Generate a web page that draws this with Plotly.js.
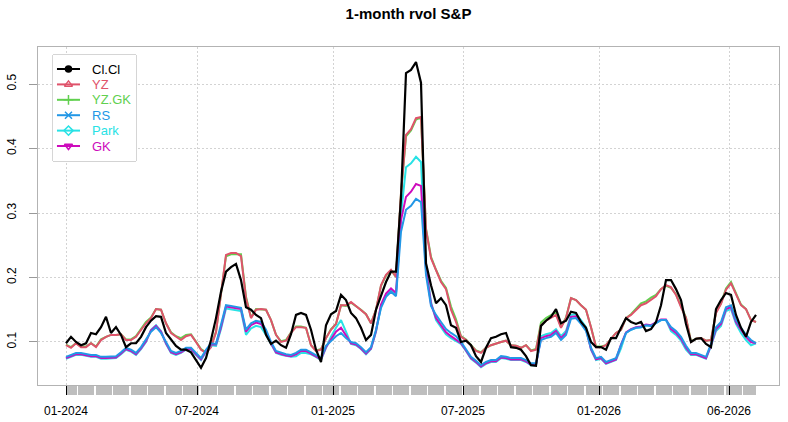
<!DOCTYPE html>
<html>
<head>
<meta charset="utf-8">
<script src="https://cdn.plot.ly/plotly-3.0.1.min.js"></script>
<style>
  html, body { margin: 0; padding: 0; background: #fff; }
  #chart { width: 788px; height: 422px; }
</style>
</head>
<body>
<div id="chart"></div>
<script>
// roughly weekly samples, 01-2024 .. 08-2026
var clcl = [
  0.098, 0.108, 0.100, 0.095, 0.098, 0.114, 0.112, 0.123, 0.139, 0.114,
  0.123, 0.111, 0.092, 0.098, 0.098, 0.108, 0.123, 0.133, 0.140, 0.139,
  0.114, 0.103, 0.094, 0.088, 0.088, 0.084, 0.072, 0.060, 0.075, 0.103,
  0.137, 0.178, 0.209, 0.216, 0.221, 0.196, 0.154, 0.150, 0.142, 0.137,
  0.111, 0.097, 0.102, 0.095, 0.091, 0.112, 0.142, 0.145, 0.142, 0.119,
  0.088, 0.069, 0.126, 0.143, 0.148, 0.173, 0.165, 0.145, 0.137, 0.122,
  0.103, 0.111, 0.150, 0.173, 0.193, 0.209, 0.209, 0.323, 0.517, 0.522,
  0.534, 0.502, 0.222, 0.188, 0.160, 0.168, 0.157, 0.126, 0.122, 0.100,
  0.102, 0.095, 0.078, 0.069, 0.091, 0.106, 0.108, 0.112, 0.114, 0.092,
  0.091, 0.088, 0.078, 0.064, 0.063, 0.125, 0.133, 0.139, 0.151, 0.129,
  0.133, 0.147, 0.145, 0.131, 0.122, 0.100, 0.092, 0.092, 0.088, 0.106,
  0.106, 0.122, 0.137, 0.131, 0.128, 0.131, 0.117, 0.120, 0.131, 0.157,
  0.196, 0.196, 0.182, 0.165, 0.128, 0.100, 0.105, 0.106, 0.097, 0.092,
  0.151, 0.165, 0.176, 0.173, 0.142, 0.122, 0.108, 0.131, 0.142
];
var yz = [
  0.095, 0.091, 0.098, 0.092, 0.092, 0.098, 0.092, 0.103, 0.108, 0.111,
  0.111, 0.112, 0.103, 0.103, 0.108, 0.119, 0.129, 0.137, 0.151, 0.150,
  0.129, 0.114, 0.108, 0.103, 0.109, 0.111, 0.100, 0.088, 0.083, 0.092,
  0.115, 0.176, 0.235, 0.238, 0.238, 0.233, 0.168, 0.137, 0.150, 0.151,
  0.150, 0.134, 0.111, 0.100, 0.102, 0.114, 0.123, 0.123, 0.122, 0.095,
  0.086, 0.088, 0.106, 0.119, 0.128, 0.157, 0.157, 0.162, 0.156, 0.150,
  0.143, 0.129, 0.150, 0.188, 0.204, 0.212, 0.201, 0.331, 0.421, 0.430,
  0.447, 0.449, 0.274, 0.230, 0.210, 0.193, 0.182, 0.150, 0.131, 0.108,
  0.103, 0.095, 0.086, 0.083, 0.091, 0.095, 0.098, 0.100, 0.102, 0.095,
  0.094, 0.091, 0.095, 0.086, 0.088, 0.126, 0.133, 0.137, 0.142, 0.122,
  0.137, 0.168, 0.165, 0.157, 0.150, 0.123, 0.092, 0.092, 0.095, 0.105,
  0.114, 0.119, 0.137, 0.142, 0.150, 0.157, 0.160, 0.165, 0.171, 0.182,
  0.188, 0.185, 0.173, 0.154, 0.137, 0.100, 0.105, 0.106, 0.102, 0.103,
  0.145, 0.159, 0.181, 0.191, 0.173, 0.157, 0.151, 0.134, 0.131
];
var yzgk = [
  0.096, 0.092, 0.098, 0.093, 0.093, 0.098, 0.093, 0.104, 0.108, 0.111,
  0.111, 0.112, 0.104, 0.104, 0.109, 0.121, 0.131, 0.138, 0.151, 0.150,
  0.129, 0.115, 0.109, 0.106, 0.111, 0.112, 0.101, 0.089, 0.084, 0.093,
  0.116, 0.175, 0.233, 0.236, 0.236, 0.236, 0.170, 0.138, 0.151, 0.151,
  0.150, 0.134, 0.111, 0.101, 0.103, 0.115, 0.124, 0.124, 0.122, 0.095,
  0.087, 0.089, 0.106, 0.120, 0.128, 0.157, 0.156, 0.161, 0.156, 0.150,
  0.143, 0.129, 0.150, 0.187, 0.203, 0.211, 0.201, 0.330, 0.419, 0.428,
  0.445, 0.448, 0.276, 0.232, 0.212, 0.195, 0.184, 0.155, 0.135, 0.109,
  0.104, 0.096, 0.087, 0.084, 0.091, 0.095, 0.098, 0.100, 0.102, 0.095,
  0.094, 0.091, 0.095, 0.087, 0.089, 0.130, 0.137, 0.141, 0.146, 0.123,
  0.138, 0.168, 0.165, 0.157, 0.150, 0.123, 0.093, 0.093, 0.095, 0.105,
  0.114, 0.119, 0.137, 0.143, 0.152, 0.160, 0.163, 0.169, 0.173, 0.182,
  0.187, 0.184, 0.174, 0.155, 0.138, 0.101, 0.105, 0.106, 0.102, 0.103,
  0.146, 0.160, 0.183, 0.193, 0.175, 0.158, 0.151, 0.134, 0.131
];
var rs = [
  0.077, 0.080, 0.083, 0.083, 0.081, 0.080, 0.080, 0.077, 0.077, 0.078,
  0.078, 0.084, 0.091, 0.088, 0.083, 0.092, 0.103, 0.116, 0.123, 0.114,
  0.100, 0.086, 0.083, 0.086, 0.091, 0.091, 0.083, 0.075, 0.088, 0.098,
  0.097, 0.125, 0.157, 0.156, 0.154, 0.153, 0.119, 0.129, 0.133, 0.131,
  0.119, 0.100, 0.086, 0.083, 0.081, 0.080, 0.083, 0.088, 0.088, 0.084,
  0.080, 0.075, 0.094, 0.102, 0.109, 0.114, 0.106, 0.100, 0.098, 0.092,
  0.084, 0.092, 0.119, 0.153, 0.170, 0.178, 0.171, 0.271, 0.305, 0.311,
  0.322, 0.317, 0.204, 0.156, 0.142, 0.131, 0.120, 0.114, 0.109, 0.100,
  0.089, 0.077, 0.071, 0.064, 0.069, 0.072, 0.072, 0.078, 0.077, 0.075,
  0.075, 0.075, 0.072, 0.067, 0.067, 0.103, 0.106, 0.108, 0.114, 0.103,
  0.111, 0.136, 0.137, 0.128, 0.117, 0.091, 0.075, 0.077, 0.069, 0.072,
  0.075, 0.095, 0.114, 0.119, 0.122, 0.123, 0.126, 0.125, 0.129, 0.134,
  0.134, 0.123, 0.117, 0.108, 0.094, 0.083, 0.083, 0.080, 0.077, 0.097,
  0.123, 0.131, 0.154, 0.157, 0.134, 0.122, 0.111, 0.103, 0.098
];
var park = [
  0.074, 0.077, 0.080, 0.080, 0.078, 0.077, 0.077, 0.074, 0.074, 0.075,
  0.075, 0.081, 0.088, 0.085, 0.080, 0.089, 0.100, 0.119, 0.126, 0.117,
  0.097, 0.083, 0.080, 0.083, 0.088, 0.088, 0.080, 0.072, 0.085, 0.095,
  0.094, 0.120, 0.152, 0.151, 0.149, 0.148, 0.111, 0.121, 0.125, 0.123,
  0.111, 0.097, 0.083, 0.080, 0.078, 0.077, 0.078, 0.083, 0.083, 0.081,
  0.077, 0.072, 0.091, 0.108, 0.122, 0.134, 0.116, 0.097, 0.095, 0.089,
  0.081, 0.089, 0.116, 0.155, 0.172, 0.180, 0.173, 0.297, 0.371, 0.377,
  0.387, 0.379, 0.219, 0.162, 0.134, 0.123, 0.112, 0.106, 0.101, 0.097,
  0.086, 0.074, 0.068, 0.061, 0.066, 0.069, 0.069, 0.075, 0.074, 0.072,
  0.072, 0.072, 0.069, 0.064, 0.064, 0.109, 0.112, 0.114, 0.120, 0.109,
  0.117, 0.142, 0.143, 0.134, 0.123, 0.088, 0.072, 0.074, 0.066, 0.069,
  0.072, 0.090, 0.114, 0.119, 0.122, 0.123, 0.126, 0.125, 0.129, 0.134,
  0.134, 0.117, 0.111, 0.102, 0.088, 0.080, 0.080, 0.077, 0.074, 0.094,
  0.117, 0.125, 0.148, 0.151, 0.128, 0.114, 0.103, 0.095, 0.098
];
var gk = [
  0.075, 0.078, 0.081, 0.081, 0.079, 0.078, 0.078, 0.075, 0.075, 0.076,
  0.076, 0.082, 0.089, 0.086, 0.081, 0.090, 0.101, 0.118, 0.125, 0.116,
  0.098, 0.084, 0.081, 0.084, 0.089, 0.089, 0.081, 0.073, 0.086, 0.096,
  0.096, 0.123, 0.155, 0.154, 0.152, 0.151, 0.116, 0.126, 0.130, 0.128,
  0.116, 0.098, 0.084, 0.081, 0.079, 0.078, 0.081, 0.086, 0.086, 0.082,
  0.078, 0.073, 0.092, 0.105, 0.116, 0.122, 0.111, 0.098, 0.096, 0.090,
  0.082, 0.090, 0.117, 0.158, 0.175, 0.183, 0.176, 0.289, 0.325, 0.333,
  0.345, 0.342, 0.212, 0.159, 0.137, 0.126, 0.115, 0.109, 0.104, 0.098,
  0.087, 0.075, 0.069, 0.062, 0.067, 0.070, 0.070, 0.076, 0.075, 0.073,
  0.073, 0.073, 0.070, 0.065, 0.065, 0.106, 0.109, 0.111, 0.117, 0.106,
  0.114, 0.139, 0.140, 0.131, 0.120, 0.089, 0.073, 0.075, 0.067, 0.070,
  0.073, 0.096, 0.115, 0.120, 0.123, 0.124, 0.127, 0.126, 0.130, 0.135,
  0.135, 0.120, 0.114, 0.105, 0.091, 0.081, 0.081, 0.078, 0.075, 0.095,
  0.120, 0.128, 0.151, 0.154, 0.131, 0.119, 0.108, 0.100, 0.098
];

// x axis works on observation number, like xts does
var tickLabels = ['01-2024', '07-2024', '01-2025', '07-2025', '01-2026', '06-2026'];
var tickPos = [0, 26.2, 53.4, 79.4, 106.6, 132.6];
var yTicks = [0.1, 0.2, 0.3, 0.4, 0.5];

var obs = clcl.map(function (v, i) { return i; });
var FONT = 'Liberation Sans, Arial, sans-serif';

var series = [
  { name: 'Cl.Cl', y: clcl, color: '#000000', symbol: 'circle', width: 2.2 },
  { name: 'YZ', y: yz, color: '#DF536B', symbol: 'triangle-up-open', width: 2 },
  { name: 'YZ.GK', y: yzgk, color: '#61D04F', symbol: 'cross-thin-open', width: 2 },
  { name: 'RS', y: rs, color: '#2297E6', symbol: 'x-thin-open', width: 2 },
  { name: 'Park', y: park, color: '#28E2E5', symbol: 'diamond-open', width: 2 },
  { name: 'GK', y: gk, color: '#CD0BBC', symbol: 'triangle-down-open', width: 2 }
];

// which line ends up on top
var drawOrder = ['YZ.GK', 'YZ', 'Park', 'GK', 'RS', 'Cl.Cl'];

var data = [];
drawOrder.forEach(function (name) {
  var s = series.filter(function (d) { return d.name === name; })[0];
  data.push({
    x: obs,
    y: s.y,
    type: 'scatter',
    mode: 'lines',
    line: { color: s.color, width: s.width },
    hoverinfo: 'skip'
  });
});

// R style legend: its own little subplot, units are pixels of the box
var annotations = [];
series.forEach(function (s, k) {
  var row = 14 + 15.4 * k;
  data.push({
    x: [4, 27], y: [row, row],
    xaxis: 'x2', yaxis: 'y2',
    type: 'scatter', mode: 'lines',
    line: { color: s.color, width: 2 },
    hoverinfo: 'skip'
  });
  data.push({
    x: [15.5], y: [row],
    xaxis: 'x2', yaxis: 'y2',
    type: 'scatter', mode: 'markers',
    marker: {
      symbol: s.symbol,
      size: s.symbol === 'circle' ? 6 : 7,
      color: s.color,
      line: { color: s.color, width: 1.5 }
    },
    hoverinfo: 'skip'
  });
  annotations.push({
    xref: 'x2', yref: 'y2',
    x: 37, y: row,
    xanchor: 'left', yanchor: 'middle',
    text: s.name,
    showarrow: false,
    font: { family: FONT, size: 13, color: s.color }
  });
});

var layout = {
  width: 788,
  height: 422,
  margin: { l: 38, r: 9, t: 47, b: 37 },
  paper_bgcolor: '#ffffff',
  plot_bgcolor: '#ffffff',
  font: { family: FONT, size: 12, color: '#000' },
  showlegend: false,
  title: {
    text: '<b>1-month rvol S&P</b>',
    font: { family: FONT, size: 15, color: '#000' },
    x: 0.5, xref: 'paper',
    y: 0.967, yref: 'container', yanchor: 'middle'
  },
  xaxis: {
    range: [-5.6, 142.6],
    tickvals: tickPos,
    ticktext: tickLabels,
    ticks: 'outside',
    ticklen: 9,
    tickwidth: 1,
    tickcolor: '#000',
    ticklabelstandoff: 6,
    tickfont: { family: FONT, size: 12, color: '#000' },
    showgrid: true,
    gridcolor: '#d3d3d3',
    griddash: '2px,2px',
    gridwidth: 1,
    showline: true,
    linecolor: '#b3b3b3',
    linewidth: 1,
    mirror: true,
    zeroline: false,
    minor: { tick0: 2.26, dtick: 3.5, ticks: 'outside', ticklen: 9, tickwidth: 1.5, tickcolor: '#ffffff', showgrid: false }
  },
  yaxis: {
    range: [0.0333, 0.5574],
    tickvals: yTicks,
    ticktext: yTicks.map(function (v) { return v.toFixed(1); }),
    tickangle: -90,
    ticks: 'outside',
    ticklen: 8,
    tickwidth: 1,
    tickcolor: '#999999',
    ticklabelstandoff: 8,
    tickfont: { family: FONT, size: 12, color: '#000' },
    showgrid: true,
    gridcolor: '#d3d3d3',
    griddash: '2px,2px',
    gridwidth: 1,
    showline: true,
    linecolor: '#b3b3b3',
    linewidth: 1,
    mirror: true,
    zeroline: false
  },
  xaxis2: {
    domain: [0.0202, 0.1323], anchor: 'y2',
    range: [0, 83], visible: false, fixedrange: true
  },
  yaxis2: {
    domain: [0.6627, 0.9763], anchor: 'x2',
    range: [106, 0], visible: false, fixedrange: true
  },
  annotations: annotations,
  shapes: [{
    // grey band of minor ticks under the x axis
    type: 'rect',
    xref: 'x', yref: 'paper',
    x0: obs[0], x1: obs[obs.length - 1],
    y0: -0.0296, y1: -0.003,
    fillcolor: '#bebebe',
    line: { width: 0 },
    layer: 'below'
  }, {
    // legend frame, hides the grid behind it
    type: 'rect',
    xref: 'x', yref: 'y',
    x0: -2.6, x1: 14, y0: 0.3806, y1: 0.545,
    fillcolor: '#ffffff',
    line: { color: '#aaaaaa', width: 1 },
    layer: 'between'
  }]
};

Plotly.newPlot('chart', data, layout, { displayModeBar: false, staticPlot: true });
</script>
</body>
</html>
